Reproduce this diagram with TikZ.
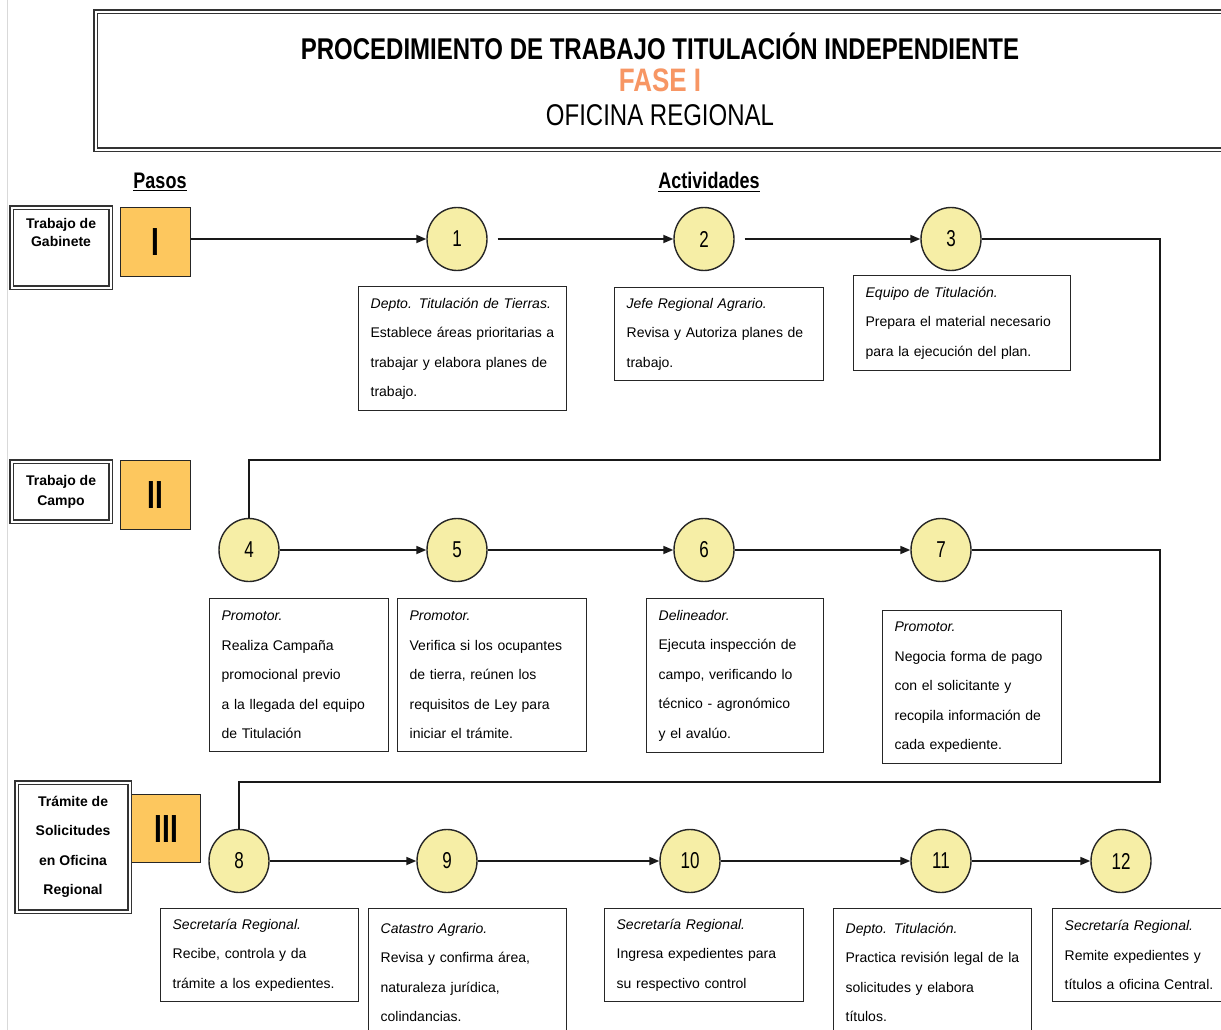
\documentclass[tikz,border=0pt]{standalone}
\usepackage{fontspec}
\setmainfont{Liberation Sans}
\usetikzlibrary{positioning,shapes.geometric,arrows.meta}

\definecolor{amarillo}{HTML}{F6EEA6}
\definecolor{naranja}{HTML}{FDC75E}
\definecolor{salmon}{HTML}{F79664}

% testo allungato in verticale
\newcommand{\estirar}[2][1.25]{\scalebox{1}[#1]{#2}}

\tikzset{
  paso/.style={ellipse, draw=black!85, fill=amarillo, line width=1.4pt,
    minimum width=60pt, minimum height=63pt, inner sep=0pt,
    font=\fontsize{17}{17}\selectfont},
  caja/.style={draw=black!85, fill=white, line width=1.3pt, anchor=north west,
    align=left, inner xsep=12pt, inner ysep=0pt,
    font=\fontsize{14}{29.5}\selectfont},
  etiqueta/.style={draw=black!80, fill=white, double, double distance=2pt,
    line width=1.1pt, anchor=north west, inner sep=0pt, align=center},
  romano/.style={draw=black!85, fill=naranja, line width=1.3pt, anchor=north west,
    inner sep=0pt, font=\bfseries\fontsize{28}{28}\selectfont},
  flujo/.style={line width=1.7pt, black!90}
}

\begin{document}
\begin{tikzpicture}[x=1pt, y=-1pt, >={Triangle[length=10pt, width=8pt]}]
        \useasboundingbox (0,0) rectangle (1221,1030);
        % Bordo pagina
        \draw[black!15, line width=0.8pt] (7,0) -- (7,1030);

        % Intestazione
        \node[etiqueta, line width=1.4pt, minimum width=1160pt, minimum height=138pt] (marco) at (95,11) {};
        \node[font=\bfseries\fontsize{24}{24}\selectfont] (titulo) at (660,46) {\estirar{PROCEDIMIENTO DE TRABAJO TITULACIÓN INDEPENDIENTE}};
        \node[font=\bfseries\fontsize{26}{26}\selectfont, text=salmon] (fase) at (660,80) {\estirar{FASE I}};
        \node[font=\fontsize{24}{24}\selectfont] (oficina) at (660,115) {\estirar{OFICINA REGIONAL}};

        \node[font=\bfseries\fontsize{18}{18}\selectfont] (pasos) at (160,182) {\estirar{\underline{Pasos}}};
        \node[font=\bfseries\fontsize{18}{18}\selectfont] (actividades) at (709,182) {\estirar{\underline{Actividades}}};

        % Passi (etichette e numeri romani)
        \node[romano, minimum width=70pt, minimum height=69pt] (romI) at (120,207) {\estirar[1.4]{I}};
        \node[romano, minimum width=70pt, minimum height=69pt] (romII) at (120,460) {\estirar[1.4]{II}};
        \node[romano, minimum width=69pt, minimum height=68pt] (romIII) at (131,794) {\estirar[1.4]{III}};

        \node[etiqueta, minimum width=99pt, minimum height=80pt] (etq1) at (11,207) {};
        \node[below=8pt of etq1.north, align=center, font=\bfseries\fontsize{14}{18}\selectfont] (txt1) {Trabajo de\\Gabinete};
        \node[etiqueta, minimum width=99pt, minimum height=60pt, font=\bfseries\fontsize{14}{20}\selectfont] (etq2) at (11,461) {Trabajo de\\Campo};
        \node[etiqueta, minimum width=113pt, minimum height=129pt, font=\bfseries\fontsize{14}{29.5}\selectfont] (etq3) at (16,782) {Trámite de\\Solicitudes\\en Oficina\\Regional};

        % Attività
        \node[paso] (c1) at (457,239) {\estirar[1.35]{1}};
        \node[paso] (c2) at (704,239) {\estirar[1.35]{2}};
        \node[paso] (c3) at (951,239) {\estirar[1.35]{3}};
        \node[paso] (c4) at (249,550) {\estirar[1.35]{4}};
        \node[paso] (c5) at (457,550) {\estirar[1.35]{5}};
        \node[paso] (c6) at (704,550) {\estirar[1.35]{6}};
        \node[paso] (c7) at (941,550) {\estirar[1.35]{7}};
        \node[paso] (c8) at (239,861) {\estirar[1.35]{8}};
        \node[paso] (c9) at (447,861) {\estirar[1.35]{9}};
        \node[paso] (c10) at (690,861) {\estirar[1.35]{10}};
        \node[paso] (c11) at (941,861) {\estirar[1.35]{11}};
        \node[paso] (c12) at (1121,861) {\estirar[1.35]{12}};

        % Punti di ritorno
        \coordinate (vuelta1) at (1160,460);
        \coordinate (vuelta2) at (1160,782);

        % Collegamenti
        \draw[flujo, ->] (romI.east |- c1.west) -- (c1.west);
        \draw[flujo, ->, shorten <=10pt] (c1) -- (c2);
        \draw[flujo, ->, shorten <=10pt] (c2) -- (c3);
        \draw[flujo] (c3.east) -| (vuelta1) -| (c4.north);
        \draw[flujo, ->] (c4) -- (c5);
        \draw[flujo, ->] (c5) -- (c6);
        \draw[flujo, ->] (c6) -- (c7);
        \draw[flujo] (c7.east) -| (vuelta2) -| (c8.north);
        \draw[flujo, ->] (c8) -- (c9);
        \draw[flujo, ->] (c9) -- (c10);
        \draw[flujo, ->] (c10) -- (c11);
        \draw[flujo, ->] (c11) -- (c12);

        % Descrizioni
        \node[caja, text width=184pt, minimum height=124pt] (b1) at (358,286)
          {\textit{Depto. Titulación de Tierras.}\\Establece áreas prioritarias a\\trabajar y elabora planes de\\trabajo.};
        \node[caja, text width=185pt, minimum height=93pt] (b2) at (614,287)
          {\textit{Jefe Regional Agrario.}\\Revisa y Autoriza planes de\\trabajo.};
        \node[caja, text width=193pt, minimum height=95pt] (b3) at (853,275)
          {\textit{Equipo de Titulación.}\\Prepara el material necesario\\para la ejecución del plan.};
        \node[caja, text width=155pt, minimum height=153pt] (b4) at (209,598)
          {\textit{Promotor.}\\Realiza Campaña\\promocional previo\\a la llegada del equipo\\de Titulación};
        \node[caja, text width=165pt, minimum height=153pt] (b5) at (397,598)
          {\textit{Promotor.}\\Verifica si los ocupantes\\de tierra, reúnen los\\requisitos de Ley para\\iniciar el trámite.};
        \node[caja, text width=153pt, minimum height=154pt] (b6) at (646,598)
          {\textit{Delineador.}\\Ejecuta inspección de\\campo, verificando lo\\técnico - agronómico\\y el avalúo.};
        \node[caja, text width=155pt, minimum height=153pt] (b7) at (882,610)
          {\textit{Promotor.}\\Negocia forma de pago\\con el solicitante y\\recopila información de\\cada expediente.};
        \node[caja, text width=174pt, minimum height=93pt] (b8) at (160,908)
          {\textit{Secretaría Regional.}\\Recibe, controla y da\\trámite a los expedientes.};
        \node[caja, text width=174pt, minimum height=128pt] (b9) at (368,908)
          {\textit{Catastro Agrario.}\\Revisa y confirma área,\\naturaleza jurídica,\\colindancias.};
        \node[caja, text width=175pt, minimum height=93pt] (b10) at (604,908)
          {\textit{Secretaría Regional.}\\Ingresa expedientes para\\su respectivo control};
        \node[caja, text width=174pt, minimum height=128pt] (b11) at (833,908)
          {\textit{Depto. Titulación.}\\Practica revisión legal de la\\solicitudes y elabora\\títulos.};
        \node[caja, text width=166pt, minimum height=93pt] (b12) at (1052,908)
          {\textit{Secretaría Regional.}\\Remite expedientes y\\títulos a oficina Central.};
\end{tikzpicture}
\end{document}
